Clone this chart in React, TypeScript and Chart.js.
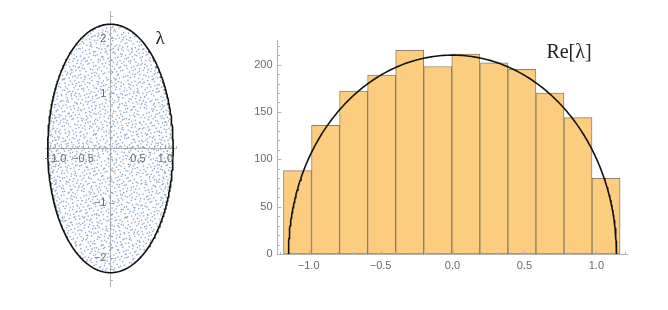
import React, { useEffect, useRef } from "react";
import { Chart, registerables } from "chart.js";

Chart.register(...registerables);

// ---------- data ----------
// Histogram of Re[λ]
const binStart = -1.175;
const binWidth = 0.195;
const binCounts = [88, 136, 172, 189, 215, 198, 211, 202, 195, 170, 144, 80];
const histXTicks = [-1.0, -0.5, 0.0, 0.5, 1.0];
const histYTicks = [0, 50, 100, 150, 200];
const semicirclePeak = 210;

// Eigenvalue support (ellipse in the complex plane)
const ellipseA = 1.14; // real semi-axis
const ellipseB = 2.26; // imaginary semi-axis
const planeXTicks = [-1.0, -0.5, 0.5, 1.0];
const planeYTicks = [-2, -1, 1, 2];

const AXIS = "#b4b4b4";
const LABEL = "#6a6a6a";
const TICKFONT = "11px 'Liberation Sans', Arial, sans-serif";

const fmt = (v: number, d: number) => (v < 0 ? "\u2212" : "") + Math.abs(v).toFixed(d);

function halton(i: number, b: number) {
  let f = 1, r = 0;
  while (i > 0) {
    f /= b;
    r += f * (i % b);
    i = Math.floor(i / b);
  }
  return r;
}

// Eigenvalue cloud: one point per counted eigenvalue, the real parts falling
// into the histogram bins with exactly binCounts; positions spread over the
// ellipse with a quasi-uniform (Halton) layout.
function eigenCloud() {
  const pts: { x: number; y: number }[] = [];
  const left = binCounts.slice();
  let remaining = left.reduce((a, b) => a + b, 0);
  let k = 17;
  while (remaining > 0 && k < 200000) {
    k++;
    const x = (2 * halton(k, 2) - 1) * ellipseA;
    const y = (2 * halton(k, 3) - 1) * ellipseB;
    if ((x / ellipseA) ** 2 + (y / ellipseB) ** 2 > 0.995) continue;
    const bin = Math.min(binCounts.length - 1, Math.max(0, Math.floor((x - binStart) / binWidth)));
    if (left[bin] <= 0) continue;
    left[bin]--;
    remaining--;
    pts.push({ x, y });
  }
  return pts;
}

function ellipsePath() {
  const pts: { x: number; y: number }[] = [];
  for (let i = 0; i <= 360; i++) {
    const t = (i / 360) * 2 * Math.PI;
    pts.push({ x: ellipseA * Math.cos(t), y: ellipseB * Math.sin(t) });
  }
  return pts;
}

function semicirclePath() {
  const pts: { x: number; y: number }[] = [];
  for (let i = 0; i <= 240; i++) {
    const t = Math.PI - (i / 240) * Math.PI;
    pts.push({ x: ellipseA * Math.cos(t), y: semicirclePeak * Math.sin(t) });
  }
  return pts;
}

const binCenters = binCounts.map((_, i) => binStart + (i + 0.5) * binWidth);

// ---------- plugins ----------
const planeAxes = {
  id: "planeAxes",
  beforeDatasetsDraw(chart: any) {
    const { ctx, chartArea: ca, scales } = chart;
    const xs = scales.x, ys = scales.y;
    const ox = Math.round(xs.getPixelForValue(0)) + 0.5;
    const oy = Math.round(ys.getPixelForValue(0)) + 0.5;
    ctx.save();
    ctx.strokeStyle = AXIS;
    ctx.lineWidth = 1;
    ctx.beginPath();
    ctx.moveTo(ca.left, oy);
    ctx.lineTo(ca.right, oy);
    ctx.moveTo(ox, ca.top);
    ctx.lineTo(ox, ca.bottom);
    for (let i = -11; i <= 12; i++) {
      if (i === 0) continue;
      const px = Math.round(xs.getPixelForValue(i / 10)) + 0.5;
      const len = i % 5 === 0 ? 4 : 2.5;
      ctx.moveTo(px, oy);
      ctx.lineTo(px, oy - len);
    }
    for (let i = -12; i <= 12; i++) {
      if (i === 0) continue;
      const py = Math.round(ys.getPixelForValue(i / 5)) + 0.5;
      const len = i % 5 === 0 ? 4 : 2.5;
      ctx.moveTo(ox, py);
      ctx.lineTo(ox + len, py);
    }
    ctx.stroke();
    ctx.restore();
  },
  afterDatasetsDraw(chart: any) {
    const { ctx, scales } = chart;
    const xs = scales.x, ys = scales.y;
    const ox = xs.getPixelForValue(0);
    const oy = ys.getPixelForValue(0);
    ctx.save();
    ctx.font = TICKFONT;
    ctx.fillStyle = LABEL;
    ctx.textAlign = "center";
    ctx.textBaseline = "top";
    planeXTicks.forEach((v) => ctx.fillText(fmt(v, 1), xs.getPixelForValue(v), oy + 5));
    ctx.textAlign = "right";
    ctx.textBaseline = "middle";
    planeYTicks.forEach((v) => ctx.fillText(fmt(v, 0), ox - 4, ys.getPixelForValue(v)));
    ctx.font = "19px 'Liberation Serif', 'Times New Roman', serif";
    ctx.fillStyle = "#222";
    ctx.textAlign = "center";
    ctx.fillText("\u03bb", 160, 39);
    ctx.restore();
  },
};

const histAxes = {
  id: "histAxes",
  afterDatasetsDraw(chart: any) {
    const { ctx, chartArea: ca, scales } = chart;
    const xs = scales.x, ys = scales.y;
    const ox = Math.round(ca.left) + 0.5;
    const oy = Math.round(ys.getPixelForValue(0)) + 0.5;
    ctx.save();
    ctx.strokeStyle = AXIS;
    ctx.lineWidth = 1;
    ctx.beginPath();
    ctx.moveTo(ca.left, oy);
    ctx.lineTo(ca.right, oy);
    ctx.moveTo(ox, ca.top);
    ctx.lineTo(ox, oy);
    for (let i = -12; i <= 12; i++) {
      const px = Math.round(xs.getPixelForValue(i / 10)) + 0.5;
      if (px < ca.left || px > ca.right) continue;
      const len = i % 5 === 0 ? 4 : 2.5;
      ctx.moveTo(px, oy);
      ctx.lineTo(px, oy - len);
    }
    for (let i = 0; i <= 22; i++) {
      const py = Math.round(ys.getPixelForValue(i * 10)) + 0.5;
      const len = i % 5 === 0 ? 4 : 2.5;
      ctx.moveTo(ox, py);
      ctx.lineTo(ox + len, py);
    }
    ctx.stroke();
    ctx.font = TICKFONT;
    ctx.fillStyle = LABEL;
    ctx.textAlign = "center";
    ctx.textBaseline = "top";
    histXTicks.forEach((v) => ctx.fillText(fmt(v, 1), xs.getPixelForValue(v), oy + 6));
    ctx.textAlign = "right";
    ctx.textBaseline = "middle";
    histYTicks.forEach((v) => ctx.fillText(String(v), ox - 5, ys.getPixelForValue(v)));
    ctx.font = "20px 'Liberation Serif', 'Times New Roman', serif";
    ctx.fillStyle = "#222";
    ctx.textAlign = "center";
    ctx.fillText("Re[\u03bb]", 349, 53);
    ctx.restore();
  },
};

export default function App() {
  const leftRef = useRef<HTMLCanvasElement>(null);
  const rightRef = useRef<HTMLCanvasElement>(null);

  useEffect(() => {
    const left = new Chart(leftRef.current!, {
      type: "scatter",
      data: {
        datasets: [
          {
            data: ellipsePath(),
            showLine: true,
            borderColor: "#111",
            borderWidth: 1.6,
            pointRadius: 0,
            tension: 0,
            clip: false,
          } as any,
          {
            data: eigenCloud(),
            pointRadius: 0.8,
            pointBackgroundColor: "rgba(94,129,181,0.7)",
            pointBorderWidth: 0,
            backgroundColor: "rgba(94,129,181,0.7)",
            borderWidth: 0,
          },
        ],
      },
      options: {
        animation: false,
        responsive: false,
        layout: { padding: { left: 45, right: 43, top: 11, bottom: 23 } },
        plugins: { legend: { display: false }, tooltip: { enabled: false } },
        scales: {
          x: { type: "linear", min: -1.19, max: 1.21, display: false },
          y: { type: "linear", min: -2.52, max: 2.5, display: false },
        },
      },
      plugins: [planeAxes],
    });

    const right = new Chart(rightRef.current!, {
      type: "bar",
      data: {
        datasets: [
          {
            type: "line",
            data: semicirclePath(),
            borderColor: "#111",
            borderWidth: 1.6,
            pointRadius: 0,
            tension: 0,
            clip: false,
          } as any,
          {
            type: "bar",
            data: binCenters.map((x, i) => ({ x, y: binCounts[i] })),
            backgroundColor: "rgb(252,205,126)",
            borderColor: "rgba(125,108,82,0.85)",
            borderWidth: 1,
            borderSkipped: false,
            barPercentage: 1,
            categoryPercentage: 1,
          },
        ],
      },
      options: {
        animation: false,
        responsive: false,
        layout: { padding: { left: 57, right: 40, top: 40, bottom: 56 } },
        plugins: { legend: { display: false }, tooltip: { enabled: false } },
        scales: {
          x: { type: "linear", min: -1.22, max: 1.22, offset: false, display: false },
          y: { type: "linear", min: 0, max: 226, display: false },
        },
      },
      plugins: [histAxes],
    });

    return () => {
      left.destroy();
      right.destroy();
    };
  }, []);

  return (
    <div style={{ position: "fixed", left: 0, top: 0, width: 668, height: 310, background: "#fff" }}>
      <canvas ref={leftRef} width={220} height={310} style={{ position: "absolute", left: 0, top: 0 }} />
      <canvas ref={rightRef} width={448} height={310} style={{ position: "absolute", left: 220, top: 0 }} />
    </div>
  );
}
